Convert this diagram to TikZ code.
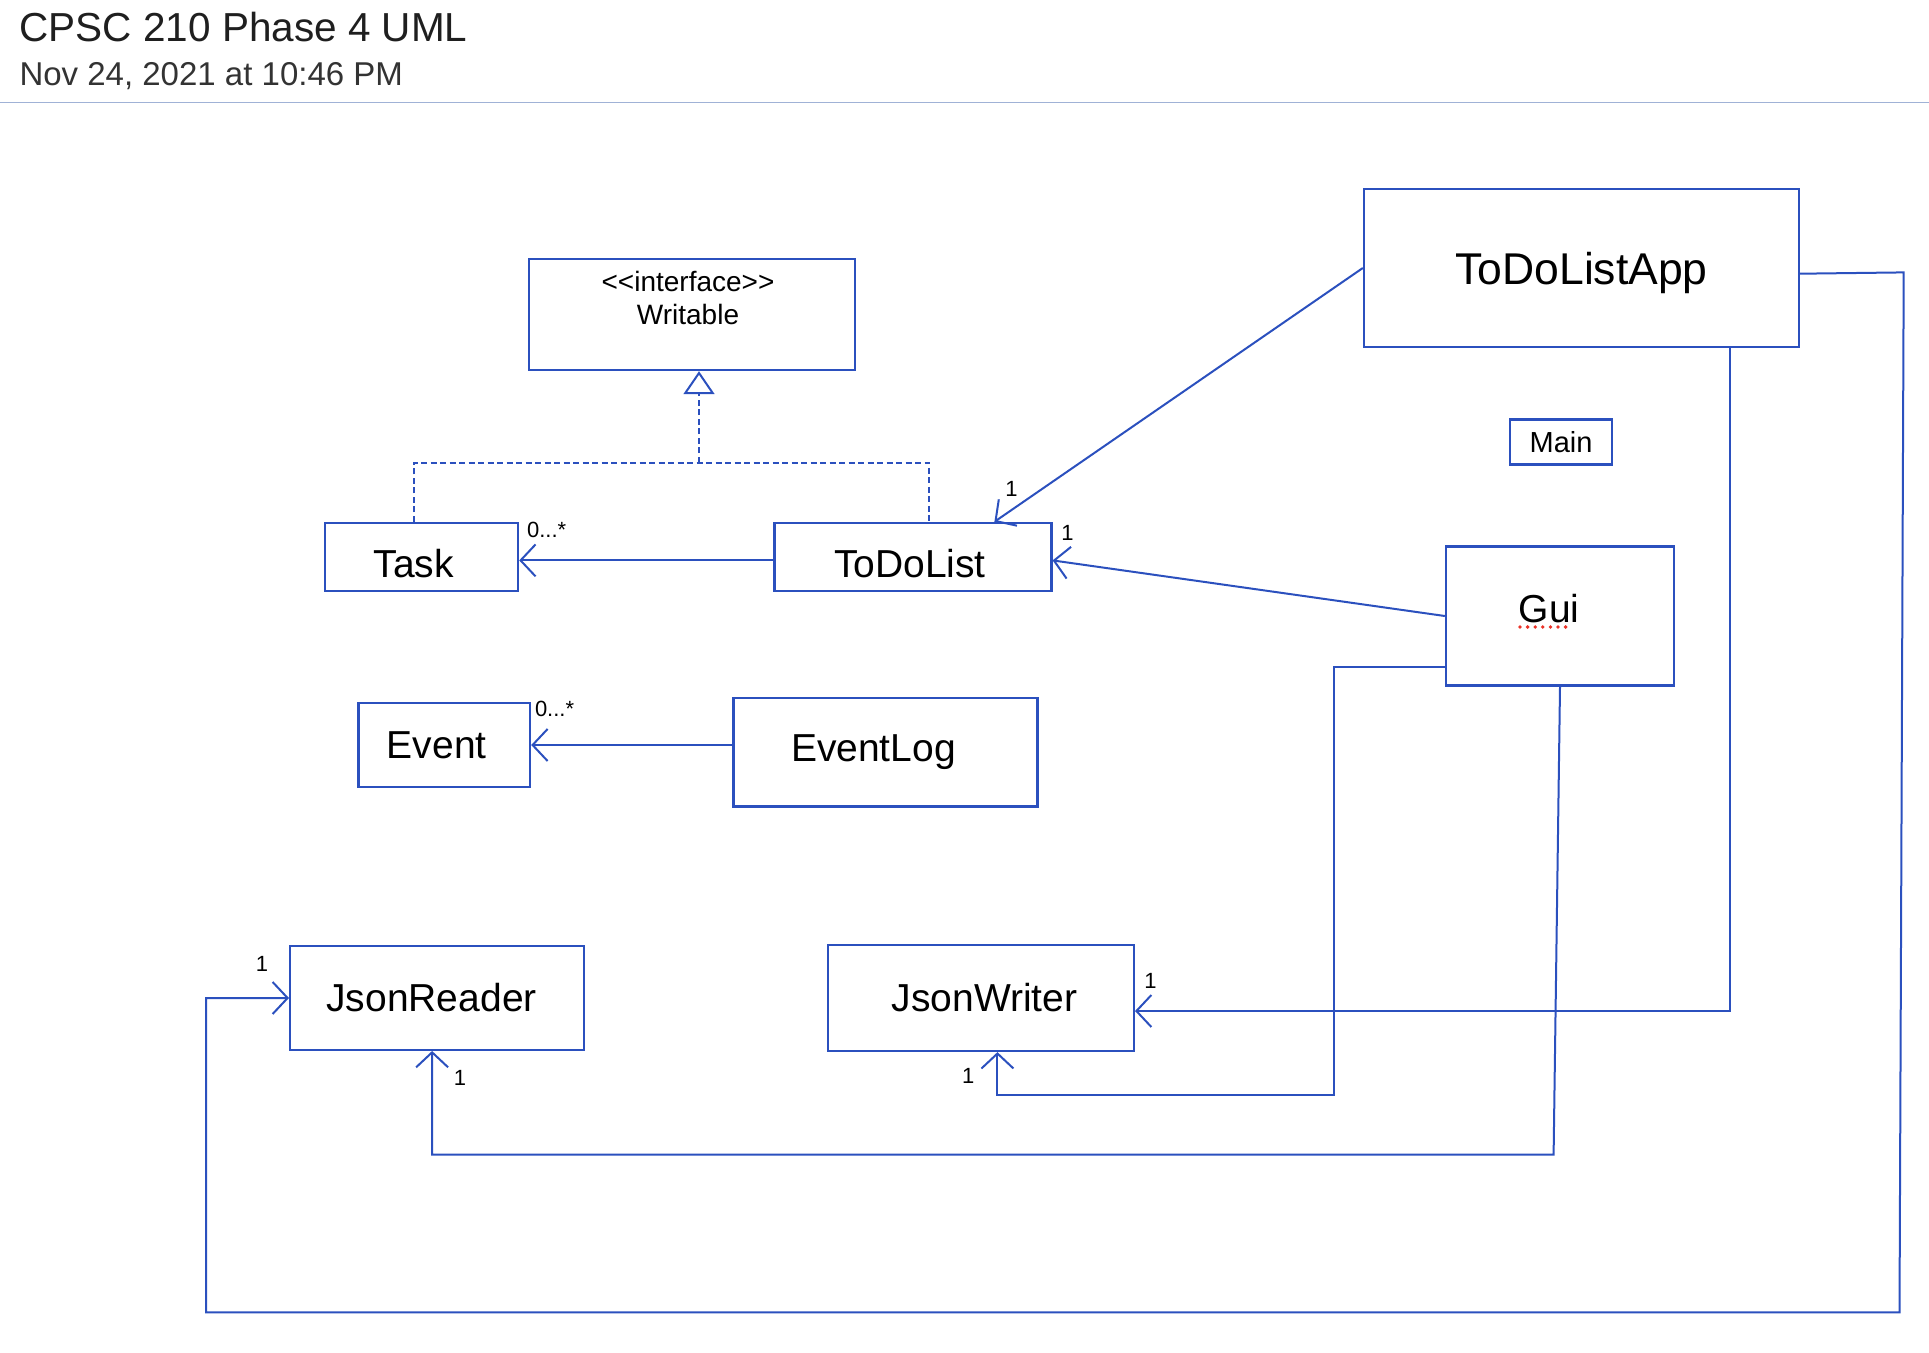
\documentclass[tikz,border=0pt]{standalone}
\usepackage{fontspec}
\setmainfont{Liberation Sans}
\usetikzlibrary{arrows.meta,positioning}
\definecolor{umlblue}{RGB}{43,80,190}
\definecolor{sepgray}{RGB}{160,178,214}
\definecolor{spellred}{RGB}{235,50,40}
\begin{document}
\begin{tikzpicture}[x=1pt, y=-1pt]
% Define styles
\tikzstyle{classbox} = [rectangle, draw=umlblue, line width=2.4pt, inner sep=0pt, font=\fontsize{39}{46}\selectfont]
\tikzstyle{smallbox} = [classbox, font=\fontsize{29}{34}\selectfont]
\tikzstyle{stereo} = [inner sep=0pt, anchor=base, font=\fontsize{28}{33}\selectfont]
\tikzstyle{mult} = [inner sep=0pt, font=\fontsize{22}{26}\selectfont]
\tikzstyle{assoc} = [draw=umlblue, line width=2pt, -{Straight Barb[length=15pt,width=32pt]}]
\tikzstyle{realize} = [draw=umlblue, line width=2pt, dash pattern=on 6pt off 3.5pt]
\tikzset{pushleft/.style={execute at end node={\hspace*{#1}}}}

\useasboundingbox (0,0) rectangle (1929,1352);

% Header
\node (title) [anchor=base west, text=black!88, font=\fontsize{40.5}{48}\selectfont] at (16,41) {CPSC 210 Phase 4 UML};
\node (date) [anchor=base west, text=black!80, font=\fontsize{33}{40}\selectfont] at (16,85.3) {Nov 24, 2021 at 10:46 PM};
\draw [sepgray, line width=1.5pt] (0,102.6) -- (1929,102.6);

% Create nodes
\node (writable) [classbox, minimum width=326pt, minimum height=111pt] at (692,314.5) {};
\node (stereotype) [stereo] at ([xshift=-4pt,yshift=-34pt]writable.north) {<\kern0pt<interface>\kern0pt>};
\node (writablename) [stereo] at ([xshift=-4pt,yshift=-67pt]writable.north) {Writable};

\node (task) [classbox, minimum width=193pt, minimum height=68pt, text height=41pt, text depth=0pt, pushleft=15.4pt] at (421.5,557) {Task};
\node (todolist) [classbox, minimum width=277pt, minimum height=68pt, text height=41pt, text depth=0pt, pushleft=6pt, right=254pt of task] {ToDoList};

\node (app) [classbox, minimum width=435pt, minimum height=158.5pt, text depth=0pt, font=\fontsize{44.5}{52}\selectfont] at (1581.5,268) {ToDoListApp};
\node (main) [smallbox, minimum width=101.5pt, minimum height=44.7pt] at (1561,442) {Main};
\node (gui) [classbox, minimum width=228pt, minimum height=139pt, text depth=14.6pt, pushleft=22pt] at (1560,616) {Gui};

\node (event) [classbox, minimum width=171.6pt, minimum height=83.6pt, pushleft=15pt] at (444.2,745) {Event};
\node (eventlog) [classbox, minimum width=304pt, minimum height=108.6pt, pushleft=24pt, right=201pt of event, yshift=-7.3pt] {EventLog};

\node (jsonreader) [classbox, minimum width=293.8pt, minimum height=103.5pt, pushleft=11pt] at (437.1,998) {JsonReader};
\node (jsonwriter) [classbox, minimum width=305.7pt, minimum height=105.8pt, pushleft=-7pt, right=241.7pt of jsonreader] {JsonWriter};

% Spell-check underline
\draw [spellred, line width=3.8pt, line cap=round, dash pattern=on 0pt off 7.6pt] ([xshift=-40pt,yshift=-11pt]gui.center) -- ([xshift=13pt,yshift=-11pt]gui.center);

% Draw arrows
\coordinate (rjoin) at (699,462.6);
\draw [realize] ([xshift=-7.7pt]task.north) |- (rjoin) -| ([xshift=16pt]todolist.north);
\draw [realize, -{Triangle[open, length=23pt, width=31pt]}] (rjoin) -- ([xshift=7pt]writable.south);

\draw [assoc] ([yshift=-3.4pt]todolist.west) -- ([yshift=-3.4pt]task.east);
\draw [assoc] (eventlog.west |- event.east) -- (event.east);
\draw [assoc] (app.west) -- ([xshift=81.5pt]todolist.north);
\draw [assoc] (gui.west) -- ([yshift=-3.4pt]todolist.east);
\draw [assoc] ([xshift=148.5pt]app.south) |- ([yshift=-13pt]jsonwriter.east);

\coordinate (wbend) at (1334,1095);
\draw [assoc] ([yshift=-51pt]gui.west) -| (wbend) -| ([xshift=16.5pt]jsonwriter.south);

\coordinate (rbend) at (1553.6,1154.5);
\draw [assoc] (gui.south) -- (rbend) -| ([xshift=-5pt]jsonreader.south);

\coordinate (loopa) at (1903.7,272.4);
\coordinate (loopb) at (1899.5,1312.3);
\coordinate (loopc) at (206,1312.3);
\draw [assoc] ([yshift=-5.7pt]app.east) -- (loopa) -- (loopb) -- (loopc) |- (jsonreader.west);

% Multiplicities
\node (mtask) [mult, anchor=north west] at ([xshift=7.7pt]task.north east) {0...*};
\node (mevent) [mult, anchor=north west] at ([xshift=3.6pt,yshift=1pt]event.north east) {0...*};
\node (mapp) [mult] at ([xshift=98.5pt,yshift=32.5pt]todolist.north) {1};
\node (mgui) [mult] at ([xshift=15pt,yshift=-11pt]todolist.north east) {1};
\node (mreadleft) [mult] at ([xshift=-27pt,yshift=-18.7pt]jsonreader.north west) {1};
\node (mreadbot) [mult] at ([xshift=23pt,yshift=-27pt]jsonreader.south) {1};
\node (mwriteright) [mult] at ([xshift=15.6pt,yshift=-37pt]jsonwriter.north east) {1};
\node (mwritebot) [mult] at ([xshift=-12.8pt,yshift=-24pt]jsonwriter.south) {1};
\end{tikzpicture}
\end{document}
